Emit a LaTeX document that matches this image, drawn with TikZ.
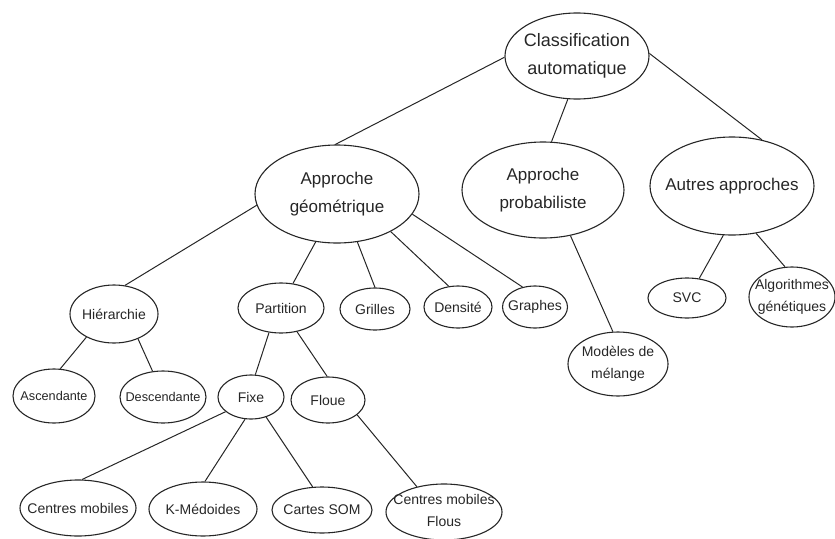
\documentclass[tikz,border=0pt]{standalone}
\usepackage{fontspec}
\setmainfont{Liberation Sans}
\usetikzlibrary{shapes.geometric}
\tikzset{
  ell/.style={draw=black!85, ellipse, line width=1.1pt, inner sep=0pt},
  lbl/.style={align=center, inner sep=0pt, text=black!85, font=\fontsize{14}{22}\selectfont},
  big/.style={lbl, font=\fontsize{17}{28}\selectfont},
  huge/.style={lbl, font=\fontsize{18}{28}\selectfont},
  tiny/.style={lbl, font=\fontsize{12.7}{20}\selectfont},
  link/.style={draw=black!85, line width=1pt}
}
\begin{document}
\begin{tikzpicture}[x=1pt,y=-1pt]
\useasboundingbox (0,0) rectangle (835,538);
% ellipses
\node[ell, minimum width=144, minimum height=86] (root) at (577,56) {};
\node[ell, minimum width=164, minimum height=98] (geo) at (337,194) {};
\node[ell, minimum width=162, minimum height=96] (prob) at (543,190) {};
\node[ell, minimum width=164, minimum height=98] (autres) at (732,186) {};
\node[ell, minimum width=78, minimum height=40] (svc) at (687,298) {};
\node[ell, minimum width=86, minimum height=60] (algo) at (792,297) {};
\node[ell, minimum width=100, minimum height=64] (mod) at (618,364) {};
\node[ell, minimum width=88, minimum height=58] (hier) at (114,314) {};
\node[ell, minimum width=86, minimum height=50] (part) at (281,308) {};
\node[ell, minimum width=70, minimum height=42] (grilles) at (375,309) {};
\node[ell, minimum width=68, minimum height=42] (dens) at (458,307) {};
\node[ell, minimum width=65, minimum height=42] (graphes) at (535,307) {};
\node[ell, minimum width=82, minimum height=54] (asc) at (54,396) {};
\node[ell, minimum width=86, minimum height=52] (desc) at (163,397) {};
\node[ell, minimum width=66, minimum height=44] (fixe) at (251,397) {};
\node[ell, minimum width=74, minimum height=46] (floue) at (328,400) {};
\node[ell, minimum width=116, minimum height=56] (cm) at (78,508) {};
\node[ell, minimum width=108, minimum height=54] (km) at (203,509) {};
\node[ell, minimum width=100, minimum height=46] (som) at (322,510) {};
\node[ell, minimum width=116, minimum height=56] (cmf) at (444,512) {};
% labels
\node[huge] (root-t) at (root) {Classification\\automatique};
\node[big] (geo-t) at (geo) {Approche\\géométrique};
\node[big] (prob-t) at (prob) {Approche\\probabiliste};
\node[big] (autres-t) at (autres) {Autres approches};
\node[lbl] (svc-t) at (svc) {SVC};
\node[lbl] (algo-t) at (algo) {Algorithmes\\génétiques};
\node[lbl] (mod-t) at (mod) {Modèles de\\mélange};
\node[lbl] (hier-t) at (hier) {Hiérarchie};
\node[lbl] (part-t) at (part) {Partition};
\node[lbl] (grilles-t) at (grilles) {Grilles};
\node[lbl] (dens-t) at (dens) {Densité};
\node[lbl] (graphes-t) at (graphes) {Graphes};
\node[tiny] (asc-t) at (asc) {Ascendante};
\node[tiny] (desc-t) at (desc) {Descendante};
\node[lbl] (fixe-t) at (fixe) {Fixe};
\node[lbl] (floue-t) at (floue) {Floue};
\node[lbl] (cm-t) at (cm) {Centres mobiles};
\node[lbl] (km-t) at (km) {K-Médoides};
\node[lbl] (som-t) at (som) {Cartes SOM};
\node[lbl] (cmf-t) at ([yshift=2]cmf) {Centres mobiles\\Flous};
% links
\draw[link] (root.181) -- (geo.92);
\draw[link] (root.258) -- (prob.80);
\draw[link] (root.2) -- (autres.57);
\draw[link] (geo.188) -- (hier.69);
\draw[link] (geo.246) -- (part.64);
\draw[link] (geo.293) -- (grilles.90);
\draw[link] (geo.325) -- (dens.114);
\draw[link] (geo.345) -- (graphes.122);
\draw[link] (prob.301) -- (mod.99);
\draw[link] (autres.260) -- (svc.58);
\draw[link] (autres.297) -- (algo.103);
\draw[link] (hier.220) -- (asc.77);
\draw[link] (hier.314) -- (desc.112);
\draw[link] (part.244) -- (fixe.79);
\draw[link] (part.304) -- (floue.92);
\draw[link] (fixe.210) -- (cm.82);
\draw[link] (fixe.255) -- (km.86);
\draw[link] (fixe.307) -- (som.112);
\draw[link] (floue.333) -- (cmf.137);
\end{tikzpicture}
\end{document}
